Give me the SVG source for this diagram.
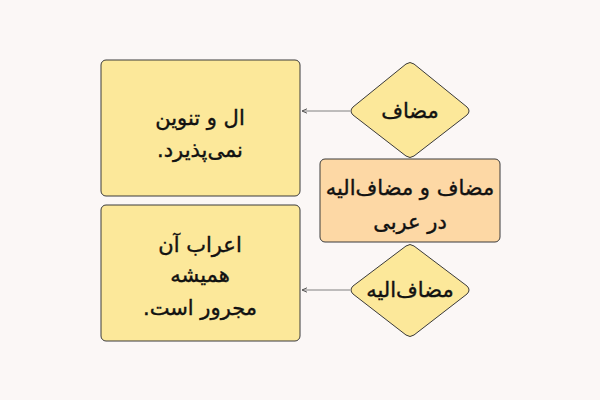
<svg xmlns="http://www.w3.org/2000/svg" width="600" height="400" viewBox="0 0 600 400">
<defs>
<style>
.box{fill:#fce89a;stroke:#3a3a3a;stroke-width:1}
.main{fill:#fdd8a5;stroke:#3a3a3a;stroke-width:1}
.dia{fill:#fce89a;stroke:#3a3a3a;stroke-width:1;stroke-linejoin:round}
.t{font-family:"DejaVu Sans","Noto Sans",sans-serif;font-size:21px;fill:#111;stroke:#111;stroke-width:0.4;text-anchor:middle;direction:rtl}
.c{stroke:#808080;stroke-width:1;fill:none;marker-end:url(#ah)}
</style>
<marker id="ah" viewBox="0 0 6 6" refX="5" refY="3" markerWidth="6" markerHeight="6" orient="auto" markerUnits="userSpaceOnUse">
<path d="M0,0.8 L5,3 L0,5.2" fill="none" stroke="#555" stroke-width="1"/>
</marker>
</defs>
<rect width="600" height="400" fill="#fbf7f6"/>
<g id="connectors">
<line class="c" x1="350" y1="111" x2="302" y2="111"/>
<line class="c" x1="350" y1="290" x2="302" y2="290"/>
</g>
<g id="node-box1">
<rect class="box" x="101" y="60" width="199" height="136" rx="5"/>
<text class="t" x="200" y="125">ال و تنوین</text>
<text class="t" x="200" y="157">نمی‌پذیرد.</text>
</g>
<g id="node-box2">
<rect class="box" x="101" y="205" width="199" height="136" rx="5"/>
<text class="t" x="200" y="252">اعراب آن</text>
<text class="t" x="200" y="282">همیشه</text>
<text class="t" x="200" y="315">مجرور است.</text>
</g>
<g id="node-mozaf">
<path class="dia" d="M406,64 Q410,61 414,64 L467,107 Q471,111 467,115 L414,156 Q410,159 406,156 L353,115 Q349,111 353,107 Z"/>
<text class="t" x="410" y="118">مضاف</text>
</g>
<g id="node-main">
<rect class="main" x="320" y="159" width="180" height="83" rx="5"/>
<text class="t" x="410" y="195">مضاف و مضاف‌الیه</text>
<text class="t" x="410" y="229">در عربی</text>
</g>
<g id="node-mozafelayh">
<path class="dia" d="M406,246 Q410,243 414,246 L467,286 Q471,290 467,294 L414,335 Q410,338 406,335 L353,294 Q349,290 353,286 Z"/>
<text class="t" x="410" y="297">مضاف‌الیه</text>
</g>
</svg>
